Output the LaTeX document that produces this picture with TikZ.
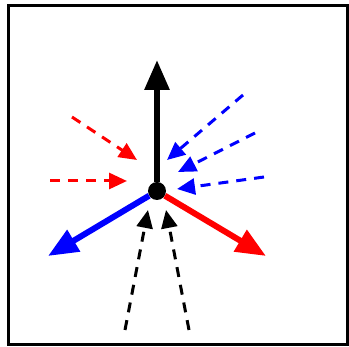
\documentclass[tikz,border=0pt]{standalone}
\usetikzlibrary{arrows.meta}
\begin{document}
\begin{tikzpicture}[
    x=1pt, y=-1pt,
    bold/.style={line width=6pt, -{Triangle[length=30pt, width=24pt]}},
    feed/.style={line width=3pt, dash pattern=on 10pt off 8pt,
      -{Triangle[length=18pt, width=16pt]}},
  ]
    \useasboundingbox (0,0) rectangle (349,347);
    % 外框
    \draw[line width=3pt] (8,6) rectangle (347,345);

    % 中心点
    \node[circle, fill=black, minimum size=18pt, inner sep=0pt] (hub) at (157,191) {};

    % 三个输出方向
    \coordinate (outUp)    at (157,60);
    \coordinate (outLeft)  at (48,256);
    \coordinate (outRight) at (266,256);
    \draw[bold, black] (hub) -- (outUp);
    \draw[bold, blue]  (hub) -- (outLeft);
    \draw[bold, red]   (hub) -- (outRight);

    % 红色输入
    \coordinate (r1s) at (72,117);  \coordinate (r1e) at (137,160);
    \coordinate (r2s) at (50,181);  \coordinate (r2e) at (127,181);
    \draw[feed, red] (r1s) -- (r1e);
    \draw[feed, red] (r2s) -- (r2e);

    % 蓝色输入
    \coordinate (b1s) at (243,95);  \coordinate (b1e) at (167,160);
    \coordinate (b2s) at (255,133); \coordinate (b2e) at (178,172);
    \coordinate (b3s) at (264,177); \coordinate (b3e) at (177,189);
    \draw[feed, blue] (b1s) -- (b1e);
    \draw[feed, blue] (b2s) -- (b2e);
    \draw[feed, blue] (b3s) -- (b3e);

    % 黑色输入
    \coordinate (k1s) at (125,330); \coordinate (k1e) at (148,210);
    \coordinate (k2s) at (189,330); \coordinate (k2e) at (166,210);
    \draw[feed, black] (k1s) -- (k1e);
    \draw[feed, black] (k2s) -- (k2e);
\end{tikzpicture}
\end{document}
